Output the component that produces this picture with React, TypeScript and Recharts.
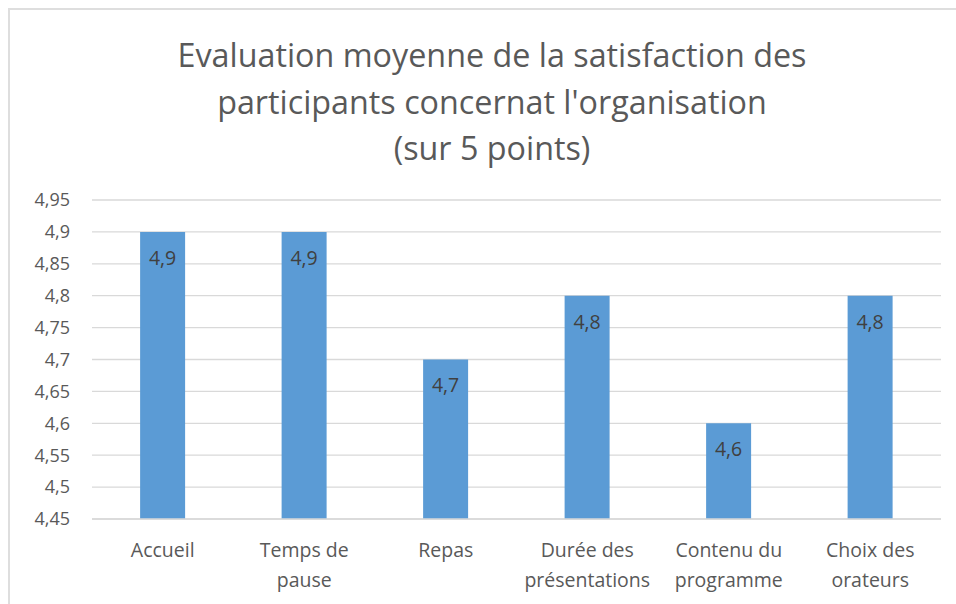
import React from 'react';
import { BarChart, Bar, XAxis, YAxis, CartesianGrid, LabelList } from 'recharts';

const categories = [
    'Accueil',
    'Temps de pause',
    'Repas',
    'Durée des présentations',
    'Contenu du programme',
    'Choix des orateurs',
];
const scores = [4.9, 4.9, 4.7, 4.8, 4.6, 4.8];
const yTicks = [4.45, 4.5, 4.55, 4.6, 4.65, 4.7, 4.75, 4.8, 4.85, 4.9, 4.95];
const titleLines = [
    'Evaluation moyenne de la satisfaction des',
    "participants concernat l'organisation",
    '(sur 5 points)',
];

const data = categories.map((name, i) => ({ name, score: scores[i] }));

const FONT = '"Open Sans", sans-serif';
const TEXT = '#595959';

const fmt = (v: number) => String(v).replace('.', ',');

// rough greedy wrap, like Excel does under narrow categories
const wrap = (s: string, maxChars = 10) => {
    const out: string[] = [];
    let cur = '';
    s.split(' ').forEach((w) => {
        const next = cur ? cur + ' ' + w : w;
        if (cur && next.length > maxChars) {
            out.push(cur);
            cur = w;
        } else {
            cur = next;
        }
    });
    if (cur) out.push(cur);
    return out;
};

const CategoryTick = (props: any) => {
    const { x, y, payload } = props;
    const lines = wrap(payload.value);
    return (
        <text x={x} y={y} textAnchor="middle" fill={TEXT} fontSize={19.5} fontFamily={FONT}>
            {lines.map((l, i) => (
                <tspan key={i} x={x} dy={30}>{l}</tspan>
            ))}
        </text>
    );
};

export default function App() {
    // fixed frame the size of the window: the Excel chart area runs past its right and bottom edges
    return (
        <div style={{ position: 'fixed', top: 0, left: 0, width: 956, height: 604, overflow: 'hidden', background: '#fff', fontFamily: FONT }}>
            <div style={{ position: 'absolute', top: 8, left: 8, width: 966, height: 620, borderTop: '2px solid #dedede', borderLeft: '2px solid #dedede' }}>
                <div style={{ position: 'absolute', top: 21, left: -1, width: 966, textAlign: 'center', color: TEXT, fontSize: 32.3, lineHeight: '46.5px' }}>
                    {titleLines.map((t, i) => <div key={i}>{t}</div>)}
                </div>
                <div style={{ position: 'absolute', top: 0, left: -1 }}>
                    <BarChart
                        width={966}
                        height={600}
                        data={data}
                        margin={{ top: 190, right: 34, left: 0, bottom: 0 }}
                        barCategoryGap="34%"
                    >
                        <CartesianGrid vertical={false} stroke="#d9d9d9" strokeWidth={1.3} />
                        <XAxis
                            dataKey="name"
                            axisLine={{ stroke: '#d9d9d9', strokeWidth: 1.3 }}
                            tickLine={false}
                            interval={0}
                            height={91}
                            tick={<CategoryTick />}
                        />
                        <YAxis
                            domain={[4.45, 4.95]}
                            ticks={yTicks}
                            axisLine={false}
                            tickLine={false}
                            tickSize={0}
                            tickMargin={22}
                            width={83}
                            tickFormatter={fmt}
                            tick={{ fill: TEXT, fontSize: 18, fontFamily: FONT }}
                        />
                        <Bar dataKey="score" fill="#5b9bd5" isAnimationActive={false}>
                            <LabelList
                                dataKey="score"
                                position="insideTop"
                                offset={19}
                                formatter={(v: any) => fmt(v)}
                                style={{ fill: '#404040', fontSize: 19.5, fontFamily: FONT }}
                            />
                        </Bar>
                    </BarChart>
                </div>
            </div>
        </div>
    );
}
